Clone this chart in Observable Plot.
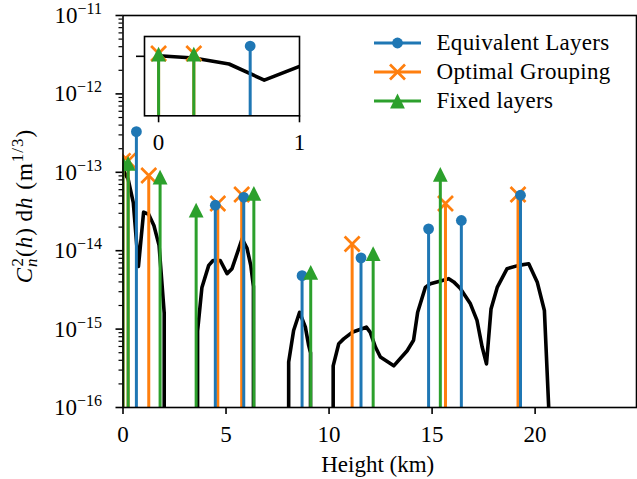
<!DOCTYPE html>
<html><head><meta charset="utf-8">
<script src="https://cdn.jsdelivr.net/npm/d3@7"></script>
<script src="https://cdn.jsdelivr.net/npm/@observablehq/plot@0.6"></script>
<style>
html,body{margin:0;padding:0;background:#fff;}
#wrap{position:relative;width:637px;height:479px;overflow:hidden;background:#fff;}
#wrap svg{position:absolute;overflow:visible;}
</style></head><body><div id="wrap"></div>
<script>
// ---- data ----
const profileHeight = [0, 0.25, 0.5, 0.75, 1.0, 1.25, 1.5, 1.75, 2.0, 2.25,
  3.5, 3.62, 3.83, 4.16, 4.37, 4.72, 5.05, 5.29, 5.78, 6.02, 6.2, 6.33, 6.5,
  7.75, 8.04, 8.28, 8.57, 8.85, 9.01, 9.1, 9.25,
  10.0, 10.2, 10.47, 10.71, 11.12, 11.6, 11.81, 12.0, 12.25, 12.49, 13.14, 13.79, 14.1, 14.3,
  14.67, 14.92, 15.81, 16.05, 16.37, 16.86, 17.18, 17.43, 17.64, 17.86, 18.16, 18.64,
  19.2, 19.69, 20.1, 20.45, 20.66, 20.75];
const profileValue = [1.07e-13, 8.2e-14, 4.1e-14, 6.3e-15, 3.1e-14, 2.9e-14, 2.1e-14, 1.17e-14, 1.6e-15, 0,
  0, 9.5e-16, 3.4e-15, 6.5e-15, 7.5e-15, 7.5e-15, 5.1e-15, 5.9e-15, 1.42e-14, 1.07e-14, 6.5e-15, 3.5e-15, 0,
  0, 3.8e-16, 9.6e-16, 1.64e-15, 1.06e-15, 6.2e-16, 5e-16, 0,
  0, 3.4e-16, 6.5e-16, 7.5e-16, 9.1e-16, 1.01e-15, 1.06e-15, 9.1e-16, 5.9e-16, 4.4e-16, 3.4e-16, 5.3e-16, 7.2e-16, 1.64e-15,
  3.4e-15, 3.8e-15, 4.4e-15, 4.0e-15, 3.3e-15, 2.1e-15, 1.29e-15, 5.9e-16, 3.6e-16, 1.8e-15, 3.4e-15, 5.9e-15,
  6.5e-15, 6.8e-15, 4.0e-15, 1.73e-15, 1e-16, 0];

const eqHeight = [0.65, 4.48, 5.86, 8.69, 11.55, 14.83, 16.42, 19.29];
const eqValue  = [3.3e-13, 3.8e-14, 4.8e-14, 4.8e-15, 8.1e-15, 1.9e-14, 2.43e-14, 5.1e-14];
const optHeight = [0, 0.25, 1.25, 4.6, 5.76, 11.12, 15.65, 19.17];
const optValue  = [1.4e-13, 1.4e-13, 9.1e-14, 4.0e-14, 5.2e-14, 1.22e-14, 4.0e-14, 5.2e-14];
const fixHeight = [0, 0.25, 1.8, 3.55, 6.35, 9.11, 12.14, 15.4];
const fixValue  = [1.3e-13, 1.3e-13, 8.7e-14, 3.3e-14, 5.4e-14, 5.3e-15, 9.2e-15, 9.4e-14];

const seriesNames = ["Equivalent Layers", "Optimal Grouping", "Fixed layers"];
const seriesColors = ["#1f77b4", "#ff7f0e", "#2ca02c"];
const xTicks = [0, 5, 10, 15, 20];
const yTickExp = [-16, -15, -14, -13, -12, -11];
const insetXTicks = [0, 1];
const insetYTicks = [1e-13];
const xLabel = "Height (km)";

// ---- helpers ----
const FLOOR = 1e-300; // zero values on a log axis drop straight off the bottom
const zip = (hs, vs) => hs.map((h, i) => ({h, v: vs[i]}));
const profile = zip(profileHeight, profileValue);
const eq = zip(eqHeight, eqValue);
const opt = zip(optHeight, optValue);
const fix = zip(fixHeight, fixValue);
const yTicks = yTickExp.map(e => Math.pow(10, e));
const yMinor = [];
for (let e = -16; e < -11; e++) for (let k = 2; k <= 9; k++) yMinor.push(k * Math.pow(10, e));
const yMin = yTicks[0], yMax = yTicks[yTicks.length - 1];

const triangle = {draw(ctx, size) { const r = Math.sqrt(size / Math.PI); ctx.moveTo(0, -r); ctx.lineTo(r, r); ctx.lineTo(-r, r); ctx.closePath(); }};
const cross = {draw(ctx, size) { const r = Math.sqrt(size / Math.PI); ctx.moveTo(-r, -r); ctx.lineTo(r, r); ctx.moveTo(r, -r); ctx.lineTo(-r, r); }};
const FONT = "Liberation Serif";
const FS = 23;

function stemMarks(yLo, clip) {
  return [
    Plot.ruleX(opt, {x: "h", y1: () => yLo, y2: "v", stroke: seriesColors[1], strokeWidth: 3, clip}),
    Plot.dot(opt, {x: "h", y: "v", symbol: cross, r: 7.5, fill: "none", stroke: seriesColors[1], strokeWidth: 2.7, clip}),
    Plot.ruleX(eq, {x: "h", y1: () => yLo, y2: "v", stroke: seriesColors[0], strokeWidth: 3, clip}),
    Plot.dot(eq, {x: "h", y: "v", symbol: "circle", r: 5.4, fill: seriesColors[0], stroke: "none", clip}),
    Plot.ruleX(fix, {x: "h", y1: () => yLo, y2: "v", stroke: seriesColors[2], strokeWidth: 3, clip}),
    Plot.dot(fix, {x: "h", y: "v", symbol: triangle, r: 7.4, fill: seriesColors[2], stroke: "none", clip})
  ];
}

// ---- main chart ----
const main = Plot.plot({
  width: 637, height: 479,
  marginLeft: 122.5, marginRight: 1, marginTop: 15, marginBottom: 72,
  style: {fontFamily: FONT, fontSize: FS + "px", background: "transparent", overflow: "visible"},
  x: {domain: [0, 24.92]},
  y: {type: "log", domain: [yMin, yMax]},
  marks: [
    Plot.line(profile, {x: "h", y: d => d.v > 0 ? d.v : FLOOR, stroke: "black", strokeWidth: 3.6, clip: true, strokeLinejoin: "round"}),
    ...stemMarks(yMin, true),
    Plot.axisY({ticks: yMinor, tickSize: 4, strokeWidth: 1.2, tickFormat: () => "", label: null}),
    Plot.axisY({ticks: yTicks, tickSize: 7, strokeWidth: 1.6, tickFormat: () => "", label: null}),
    Plot.axisX({ticks: xTicks, tickSize: 7, strokeWidth: 1.6, tickPadding: 11, fontSize: FS, label: null}),
    Plot.text([xLabel], {text: d => d, frameAnchor: "bottom", dy: 64, dx: -2, fontSize: FS, letterSpacing: 0.6}),
    Plot.frame({stroke: "black", strokeWidth: 1.6})
  ]
});
main.style.left = "0px"; main.style.top = "0px";
document.getElementById("wrap").appendChild(main);

const sv = d3.select(main);
const ys = main.scale("y");
// y tick labels as 10^{n}
const gl = sv.append("g").attr("font-family", FONT).attr("font-size", FS);
yTickExp.forEach(e => {
  const t = gl.append("text").attr("x", 102).attr("y", ys.apply(Math.pow(10, e)) + 8).attr("text-anchor", "end");
  t.append("tspan").text("10");
  t.append("tspan").attr("dy", -9).attr("font-size", 16).text("\u2212" + Math.abs(e));
});
// y axis label: C_n^2(h) dh (m^{1/3})
const yl = sv.append("text").attr("transform", "translate(32,206) rotate(-90)")
  .attr("text-anchor", "middle").attr("font-family", FONT).attr("font-size", FS)
  .attr("letter-spacing", 1).style("white-space", "pre");
yl.append("tspan").attr("font-style", "italic").text("C");
yl.append("tspan").attr("font-style", "italic").attr("font-size", 17).attr("dy", 5).text("n");
yl.append("tspan").attr("font-size", 17).attr("dx", -9).attr("dy", -14).text("2");
yl.append("tspan").attr("dy", 9).text("(");
yl.append("tspan").attr("font-style", "italic").text("h");
yl.append("tspan").text(")\u2009d");
yl.append("tspan").attr("font-style", "italic").text("h");
yl.append("tspan").text(" (m");
yl.append("tspan").attr("font-size", 17).attr("dy", -9).text("1/3");
yl.append("tspan").attr("dy", 9).text(")");

// legend
const legendRows = [43, 72, 101];
const legendSymbols = [{type: d3.symbolCircle, r: 5.4, fill: true}, {type: cross, r: 7.5, fill: false}, {type: triangle, r: 7.4, fill: true}];
const lg = sv.append("g").attr("font-family", FONT).attr("font-size", FS).attr("text-anchor", "start");
seriesNames.forEach((name, i) => {
  const y = legendRows[i], c = seriesColors[i], s = legendSymbols[i];
  lg.append("line").attr("x1", 374).attr("x2", 421).attr("y1", y).attr("y2", y).attr("stroke", c).attr("stroke-width", 3);
  lg.append("path").attr("transform", `translate(397.5,${y})`)
    .attr("d", d3.symbol(s.type, s.r * s.r * Math.PI)())
    .attr("fill", s.fill ? c : "none").attr("stroke", s.fill ? "none" : c).attr("stroke-width", 2.7);
  lg.append("text").attr("x", 436.5).attr("y", y + 7).attr("text-anchor", "start").attr("letter-spacing", 0.3).text(name);
});

// ---- inset ----
const inset = Plot.plot({
  width: 170, height: 118.3,
  marginLeft: 12, marginRight: 3, marginTop: 3, marginBottom: 36,
  style: {fontFamily: FONT, fontSize: FS + "px", background: "transparent", overflow: "visible"},
  x: {domain: [-0.1, 1.0]},
  y: {type: "log", domain: [1e-16, 1e-12]},
  marks: [
    Plot.frame({fill: "white"}),
    Plot.line(profile, {x: "h", y: d => d.v > 0 ? d.v : FLOOR, stroke: "black", strokeWidth: 3.6, clip: true, strokeLinejoin: "round"}),
    ...stemMarks(1e-16, true),
    Plot.axisY({ticks: insetYTicks, tickSize: 8, strokeWidth: 1.6, tickFormat: () => "", label: null}),
    Plot.axisX({ticks: insetXTicks, tickSize: 7, strokeWidth: 1.6, tickPadding: 11, fontSize: FS, tickFormat: d => String(d), label: null}),
    Plot.frame({stroke: "black", strokeWidth: 1.6})
  ]
});
inset.style.left = "132px"; inset.style.top = "32.7px";
document.getElementById("wrap").appendChild(inset);
</script></body></html>
